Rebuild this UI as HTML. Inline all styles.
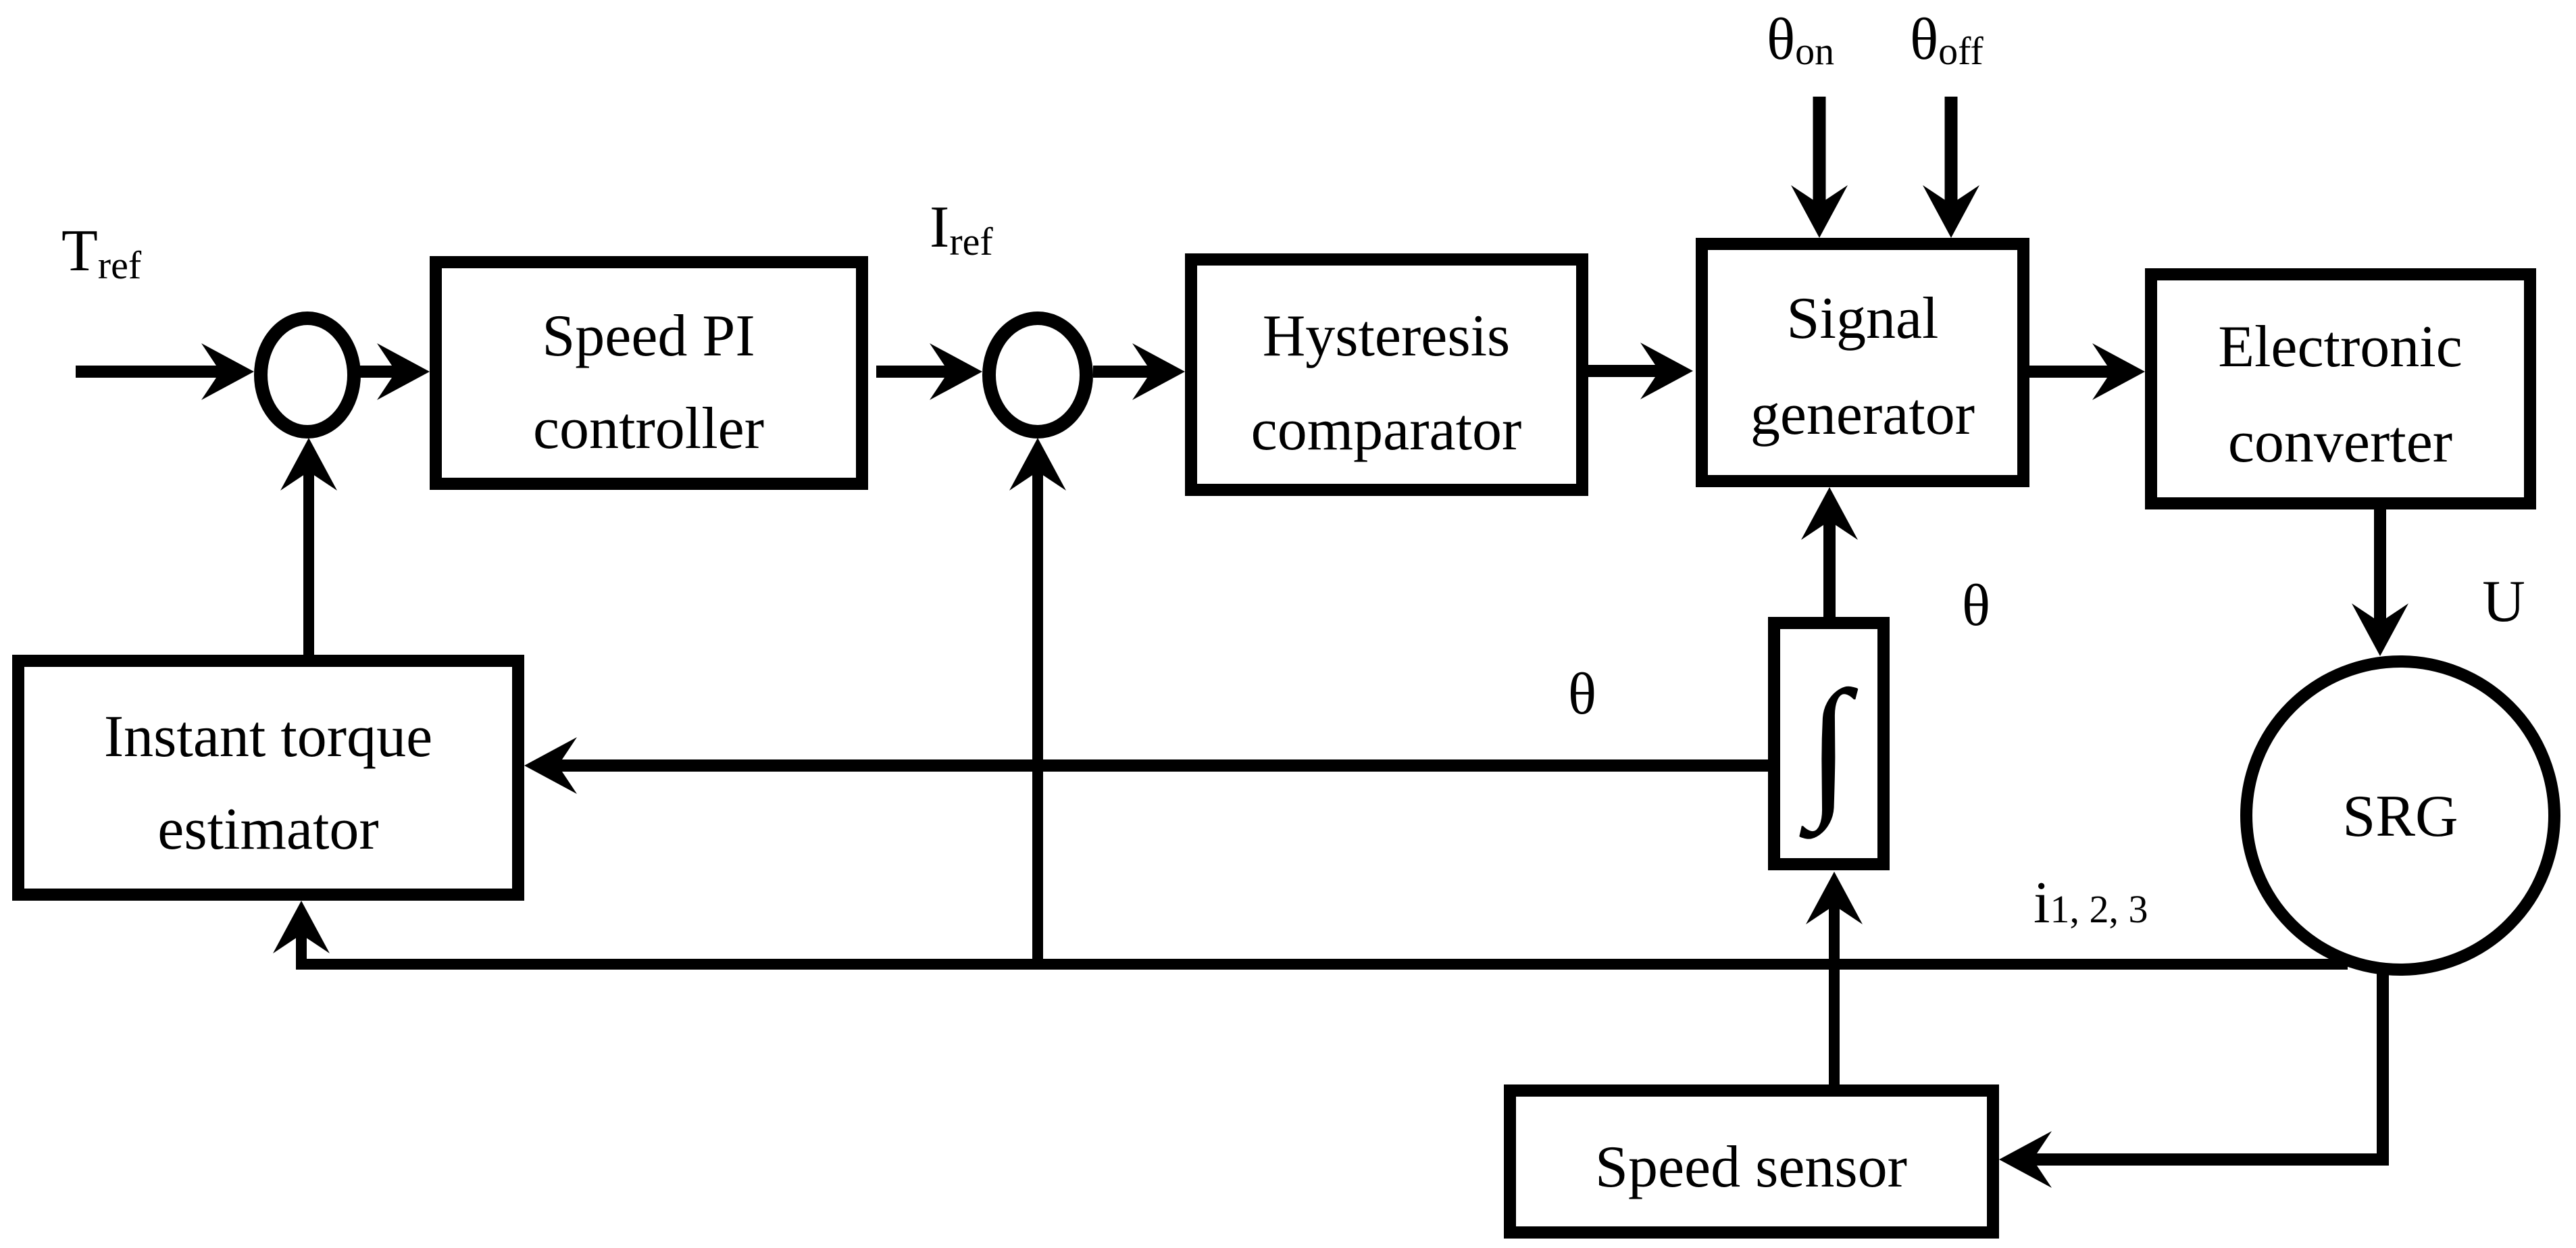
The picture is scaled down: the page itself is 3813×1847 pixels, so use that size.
<!DOCTYPE html>
<html><head><meta charset="utf-8"><style>
html,body{margin:0;padding:0;background:#fff;}
svg{display:block;}
svg text{font-family:"Liberation Serif","DejaVu Serif","Noto Serif CJK SC",serif;}
</style></head><body>
<svg width="3813" height="1847" viewBox="0 0 3813 1847" xmlns="http://www.w3.org/2000/svg">
<defs>
<polygon id="ah" points="0,0 -78,-42 -50,0 -78,42" fill="#000"/>
</defs>
<g stroke="#000" fill="none">
<rect x="645" y="388" width="631" height="328" stroke-width="18"/>
<rect x="1763" y="384" width="579" height="341" stroke-width="18"/>
<rect x="2519" y="361" width="476" height="351" stroke-width="18"/>
<rect x="3184" y="406" width="561" height="339" stroke-width="18"/>
<rect x="27" y="978" width="740" height="346" stroke-width="18"/>
<rect x="2626" y="922" width="162" height="357" stroke-width="18"/>
<rect x="2235" y="1614" width="715" height="210" stroke-width="18"/>
<ellipse cx="455" cy="555" rx="69" ry="84" stroke-width="20"/>
<ellipse cx="1536" cy="555" rx="72" ry="84" stroke-width="20"/>
<circle cx="3553" cy="1207" r="228" stroke-width="18"/>
<line x1="112" y1="550" x2="340" y2="550" stroke-width="18"/>
<line x1="533" y1="550" x2="600" y2="550" stroke-width="18"/>
<line x1="1297" y1="550" x2="1420" y2="550" stroke-width="18"/>
<line x1="1618" y1="550" x2="1720" y2="550" stroke-width="18"/>
<line x1="2351" y1="549" x2="2470" y2="549" stroke-width="18"/>
<line x1="3004" y1="550" x2="3140" y2="550" stroke-width="18"/>
<line x1="2693" y1="143" x2="2693" y2="320" stroke-width="19"/>
<line x1="2888" y1="143" x2="2888" y2="320" stroke-width="19"/>
<line x1="3523" y1="754" x2="3523" y2="935" stroke-width="18"/>
<line x1="2708" y1="913" x2="2708" y2="760" stroke-width="18"/>
<line x1="2617" y1="1133" x2="810" y2="1133" stroke-width="18"/>
<line x1="457" y1="969" x2="457" y2="690" stroke-width="16"/>
<line x1="438" y1="1427" x2="3475" y2="1427" stroke-width="16"/>
<line x1="446" y1="1435" x2="446" y2="1370" stroke-width="16"/>
<line x1="1536" y1="1427" x2="1536" y2="690" stroke-width="16"/>
<line x1="2715" y1="1605" x2="2715" y2="1325" stroke-width="16"/>
<polyline points="3527,1430 3527,1716 2995,1716" stroke-width="18"/>
</g>
<use href="#ah" transform="translate(376,550)"/>
<use href="#ah" transform="translate(636,550)"/>
<use href="#ah" transform="translate(1454,550)"/>
<use href="#ah" transform="translate(1754,550)"/>
<use href="#ah" transform="translate(2506,549)"/>
<use href="#ah" transform="translate(3175,550)"/>
<use href="#ah" transform="translate(2693,352) rotate(90)"/>
<use href="#ah" transform="translate(2888,352) rotate(90)"/>
<use href="#ah" transform="translate(3523,971) rotate(90)"/>
<use href="#ah" transform="translate(2708,721) rotate(-90)"/>
<use href="#ah" transform="translate(776,1133) rotate(180)"/>
<use href="#ah" transform="translate(457,648) rotate(-90)"/>
<use href="#ah" transform="translate(446,1333) rotate(-90)"/>
<use href="#ah" transform="translate(1536,648) rotate(-90)"/>
<use href="#ah" transform="translate(2715,1290) rotate(-90)"/>
<use href="#ah" transform="translate(2959,1716) rotate(180)"/>
<g font-size="88" text-anchor="middle" fill="#000">
<text x="960" y="526">Speed PI</text>
<text x="960" y="663">controller</text>
<text x="2052" y="526">Hysteresis</text>
<text x="2052" y="665">comparator</text>
<text x="2757" y="500">Signal</text>
<text x="2757" y="642">generator</text>
<text x="3464" y="542">Electronic</text>
<text x="3464" y="683">converter</text>
<text x="397" y="1119">Instant torque</text>
<text x="397" y="1256">estimator</text>
<text x="3553" y="1237">SRG</text>
<text x="2592" y="1756">Speed sensor</text>
<text x="3706" y="919">U</text>
<text x="2925" y="925">θ</text>
<text x="2342" y="1056">θ</text>
</g>
<text x="2707" y="1180" font-size="230" font-style="italic" text-anchor="middle">∫</text>
<text x="91" y="400" font-size="88">T<tspan font-size="58" dy="12">ref</tspan></text>
<text x="1376" y="365" font-size="88">I<tspan font-size="58" dy="12">ref</tspan></text>
<text x="2615" y="87" font-size="88">θ<tspan font-size="58" dy="8">on</tspan></text>
<text x="2827" y="87" font-size="88">θ<tspan font-size="58" dy="8">off</tspan></text>
<text x="3010" y="1365" font-size="88">i<tspan font-size="58">1, 2, 3</tspan></text>
</svg>
</body></html>
